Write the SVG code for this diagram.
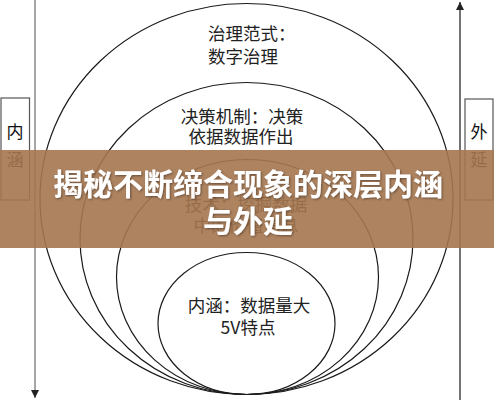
<svg xmlns="http://www.w3.org/2000/svg" width="494" height="400" viewBox="0 0 494 400">
<defs>
<style>
.lbl{font-family:"Noto Sans CJK SC","Liberation Sans",sans-serif;font-size:17.5px;fill:#222;}
.ell{fill:none;stroke:#1a1a1a;stroke-width:1.2;}
.side{fill:#fff;stroke:#555;stroke-width:1.2;}
.sidetxt{font-family:"Noto Sans CJK SC","Liberation Sans",sans-serif;font-size:17px;fill:#111;text-anchor:middle;}
.title{font-family:"Noto Sans CJK SC","Liberation Sans",sans-serif;font-size:30px;font-weight:bold;fill:#fff;text-anchor:middle;}
</style>
<marker id="arrDown" viewBox="0 0 10 10" refX="10" refY="5" markerWidth="8" markerHeight="8" orient="auto" markerUnits="userSpaceOnUse">
<path d="M0,0 L10,5 L0,10 Z" fill="#222"/>
</marker>
<filter id="sh" x="-5%" y="-20%" width="110%" height="140%">
<feDropShadow dx="1" dy="1" stdDeviation="1" flood-color="#000" flood-opacity="0.4"/>
</filter>
</defs>
<rect width="494" height="400" fill="#fff"/>
<g id="connectors">
<line x1="35" y1="0" x2="35" y2="398" stroke="#888" stroke-width="1.5" marker-end="url(#arrDown)"/>
<line x1="460" y1="400" x2="460" y2="2" stroke="#444" stroke-width="1.5" marker-end="url(#arrDown)"/>
</g>
<g id="ring-outer">
<ellipse class="ell" cx="246.5" cy="199" rx="206.5" ry="195.5"/>
<text class="lbl" x="208" y="40">治理范式：</text>
<text class="lbl" x="208" y="63">数字治理</text>
</g>
<g id="ring-2">
<ellipse class="ell" cx="246.5" cy="238.5" rx="166.5" ry="156"/>
<text class="lbl" x="242" y="123" text-anchor="middle">决策机制：决策</text>
<text class="lbl" x="241" y="143" text-anchor="middle">依据数据作出</text>
</g>
<g id="ring-3">
<ellipse class="ell" cx="247.5" cy="277" rx="131" ry="117.5"/>
<text class="lbl" x="246" y="211" text-anchor="middle">技术：挖掘数据</text>
<text class="lbl" x="246" y="232" text-anchor="middle">中的价值信息</text>
</g>
<g id="ring-inner">
<ellipse class="ell" cx="246.5" cy="323.5" rx="88.5" ry="71"/>
<text class="lbl" x="249" y="312" text-anchor="middle">内涵：数据量大</text>
<text class="lbl" x="248" y="334" text-anchor="middle">5V特点</text>
</g>
<g id="box-left">
<rect class="side" x="1" y="98" width="28.5" height="102"/>
<text class="sidetxt" x="15" y="138">内</text>
<text class="sidetxt" x="15" y="166">涵</text>
</g>
<g id="box-right">
<rect class="side" x="465" y="99" width="28" height="101"/>
<text class="sidetxt" x="479" y="138">外</text>
<text class="sidetxt" x="479" y="166">延</text>
</g>
<g id="banner">
<rect x="0" y="150" width="494" height="98" fill="#a4754f" opacity="0.9"/>
<text class="title" x="248" y="195" filter="url(#sh)">揭秘不断缔合现象的深层内涵</text>
<text class="title" x="248" y="232" filter="url(#sh)">与外延</text>
</g>
</svg>
